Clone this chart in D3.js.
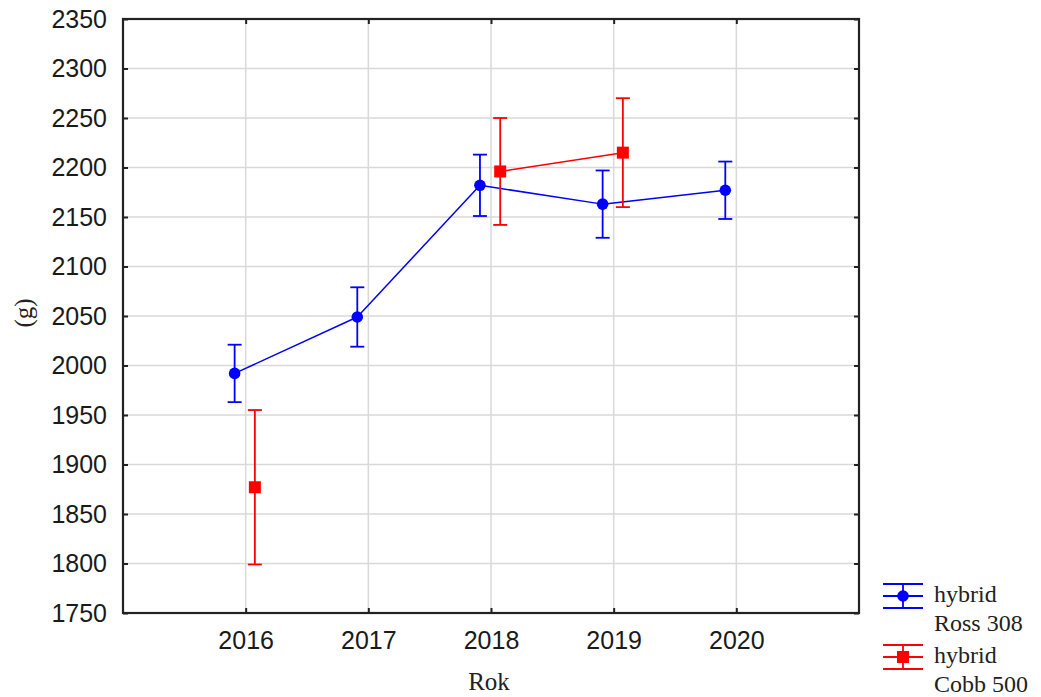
<!DOCTYPE html>
<html>
<head>
<meta charset="utf-8">
<script src="https://cdn.jsdelivr.net/npm/d3@7"></script>
<style>
  body { margin: 0; background: #fff; }
  svg { display: block; }
</style>
</head>
<body>
<svg id="chart" width="1041" height="697"></svg>
<script>
// Years on the x axis
const years = [2016, 2017, 2018, 2019, 2020];
const yTicks = [1750, 1800, 1850, 1900, 1950, 2000, 2050, 2100, 2150, 2200, 2250, 2300, 2350];

// Ross 308: mean and half-width of the interval
const rossYears = [2016, 2017, 2018, 2019, 2020];
const rossMean = [1992, 2049, 2182, 2163, 2177];
const rossErr  = [29, 30, 31, 34, 29];

// Cobb 500 (no data in 2017 and 2020)
const cobbYears = [2016, 2018, 2019];
const cobbMean = [1877, 2196, 2215];
const cobbErr  = [78, 54, 55];

const svg = d3.select("#chart");
const L = 123, T = 19, R = 859, B = 613;

const x = d3.scaleLinear().domain([2015, 2021]).range([L, R]);
const y = d3.scaleLinear().domain([1750, 2350]).range([B, T]);

const sans = "Liberation Sans, Arial, sans-serif";
const serif = "Liberation Serif, Times New Roman, serif";

// grid
const grid = svg.append("g").attr("stroke", "#d9d9d9").attr("stroke-width", 1.5);
grid.selectAll("line.h").data(yTicks.slice(1, -1)).join("line")
  .attr("x1", L).attr("x2", R).attr("y1", d => y(d)).attr("y2", d => y(d));
grid.selectAll("line.v").data(years).join("line")
  .attr("y1", T).attr("y2", B).attr("x1", d => x(d)).attr("x2", d => x(d));

// axes with inward ticks
const yAxis = svg.append("g").attr("transform", `translate(${L},0)`)
  .call(d3.axisLeft(y).tickValues(yTicks).tickSize(-5).tickPadding(16).tickFormat(d3.format("d")));
const xAxis = svg.append("g").attr("transform", `translate(0,${B})`)
  .call(d3.axisBottom(x).tickValues(years).tickSize(-5).tickPadding(18).tickFormat(d3.format("d")));
svg.append("g").attr("transform", `translate(${R},0)`)
  .call(d3.axisRight(y).tickValues(yTicks).tickSize(-5).tickFormat(""));
svg.append("g").attr("transform", `translate(0,${T})`)
  .call(d3.axisTop(x).tickValues(years).tickSize(-5).tickFormat(""));
svg.selectAll(".domain").remove();
svg.selectAll(".tick line").attr("stroke", "#222").attr("stroke-width", 2);
[yAxis, xAxis].forEach(a => a.selectAll("text")
  .attr("font-family", sans).attr("font-size", 25).attr("fill", "#1a1a1a"));

// frame
svg.append("rect").attr("x", L).attr("y", T).attr("width", R - L).attr("height", B - T)
  .attr("fill", "none").attr("stroke", "#222").attr("stroke-width", 2.2);

// axis titles
svg.append("text").attr("x", 489).attr("y", 690).attr("text-anchor", "middle")
  .attr("font-family", serif).attr("font-size", 25).attr("fill", "#222").text("Rok");
svg.append("text").attr("transform", "translate(32,313) rotate(-90)").attr("text-anchor", "middle")
  .attr("font-family", serif).attr("font-size", 25).attr("fill", "#222").text("(g)");

function drawSeries(yrs, mean, err, color, offset, marker) {
  const data = yrs.map((yr, i) => ({ yr, m: mean[i], e: err[i] }));
  const px = d => x(d.yr + offset);
  const g = svg.append("g");
  // connect consecutive years only
  for (let i = 1; i < data.length; i++) {
    if (data[i].yr - data[i - 1].yr === 1) {
      g.append("line").attr("x1", px(data[i - 1])).attr("y1", y(data[i - 1].m))
        .attr("x2", px(data[i])).attr("y2", y(data[i].m))
        .attr("stroke", color).attr("stroke-width", 1.5);
    }
  }
  const eb = g.selectAll("g.eb").data(data).join("g").attr("stroke", color).attr("stroke-width", 1.8);
  eb.append("line").attr("x1", px).attr("x2", px).attr("y1", d => y(d.m + d.e)).attr("y2", d => y(d.m - d.e));
  eb.append("line").attr("x1", d => px(d) - 7).attr("x2", d => px(d) + 7)
    .attr("y1", d => y(d.m + d.e)).attr("y2", d => y(d.m + d.e));
  eb.append("line").attr("x1", d => px(d) - 7).attr("x2", d => px(d) + 7)
    .attr("y1", d => y(d.m - d.e)).attr("y2", d => y(d.m - d.e));
  if (marker === "circle") {
    g.selectAll("circle").data(data).join("circle")
      .attr("cx", px).attr("cy", d => y(d.m)).attr("r", 5.8).attr("fill", color);
  } else {
    g.selectAll("rect").data(data).join("rect")
      .attr("x", d => px(d) - 6).attr("y", d => y(d.m) - 6).attr("width", 12).attr("height", 12)
      .attr("fill", color);
  }
}

drawSeries(rossYears, rossMean, rossErr, "#0000ff", -0.09, "circle");
drawSeries(cobbYears, cobbMean, cobbErr, "#ff0000", 0.075, "square");

// legend
const legendItems = [
  { lines: ["hybrid", "Ross 308"], color: "#0000ff", marker: "circle" },
  { lines: ["hybrid", "Cobb 500"], color: "#ff0000", marker: "square" }
];
const lg = svg.append("g");
legendItems.forEach((it, i) => {
  const cy = 596 + i * 61;
  const g = lg.append("g").attr("stroke", it.color).attr("stroke-width", 1.8);
  [-12, 0, 12].forEach(dy => g.append("line").attr("x1", 883).attr("x2", 923)
    .attr("y1", cy + dy).attr("y2", cy + dy));
  g.append("line").attr("x1", 903).attr("x2", 903).attr("y1", cy - 12).attr("y2", cy + 12);
  if (it.marker === "circle") {
    lg.append("circle").attr("cx", 903).attr("cy", cy).attr("r", 5.8).attr("fill", it.color);
  } else {
    lg.append("rect").attr("x", 897).attr("y", cy - 6).attr("width", 12).attr("height", 12).attr("fill", it.color);
  }
  it.lines.forEach((t, j) => {
    lg.append("text").attr("x", 934).attr("y", cy + 6 + j * 29)
      .attr("font-family", serif).attr("font-size", 24)
      .attr("fill", "#222").text(t);
  });
});
</script>
</body>
</html>
